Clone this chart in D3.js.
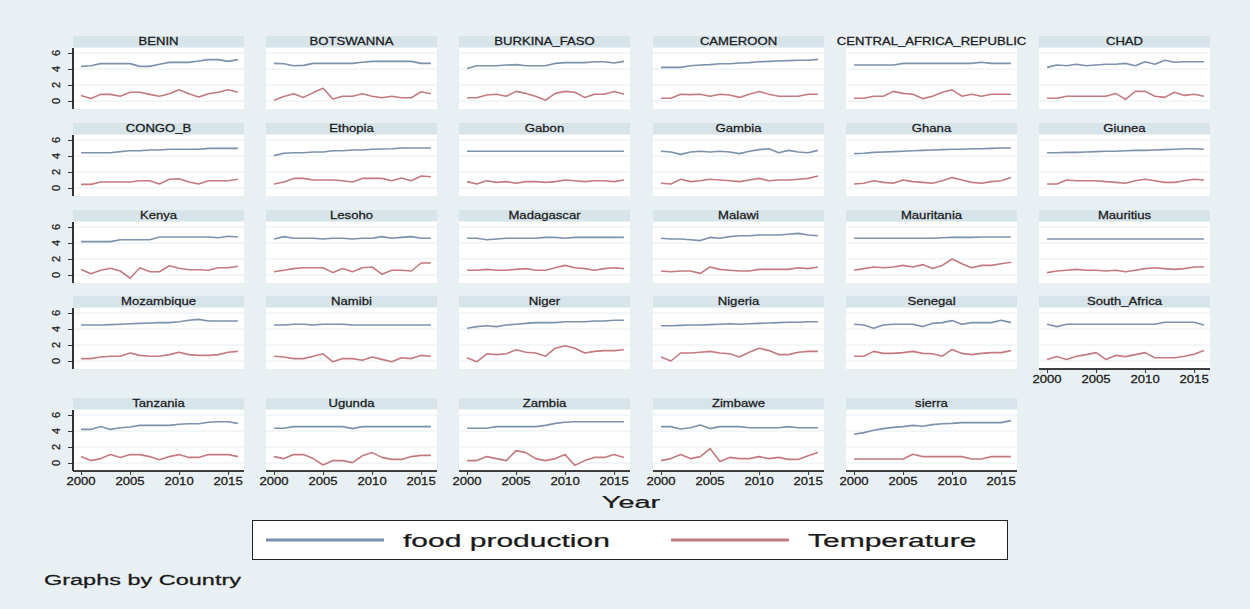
<!DOCTYPE html>
<html>
<head>
<meta charset="utf-8">
<script src="https://cdn.jsdelivr.net/npm/d3@7"></script>
<style>
  html, body { margin: 0; padding: 0; background: #e9f0f3; }
  text { font-family: "Liberation Sans", Arial, sans-serif; }
</style>
</head>
<body>
<svg id="chart" width="1250" height="609"></svg>
<script>
const countries = [
  "BENIN", "BOTSWANNA", "BURKINA_FASO", "CAMEROON", "CENTRAL_AFRICA_REPUBLIC", "CHAD",
  "CONGO_B", "Ethopia", "Gabon", "Gambia", "Ghana", "Giunea",
  "Kenya", "Lesoho", "Madagascar", "Malawi", "Mauritania", "Mauritius",
  "Mozambique", "Namibi", "Niger", "Nigeria", "Senegal", "South_Africa",
  "Tanzania", "Ugunda", "Zambia", "Zimbawe", "sierra"
];
const years = [2000, 2001, 2002, 2003, 2004, 2005, 2006, 2007, 2008, 2009, 2010, 2011, 2012, 2013, 2014, 2015, 2016];
const xTicks = [2000, 2005, 2010, 2015];
const yTicks = [0, 2, 4, 6];
const seriesNames = ["food production", "Temperature"];

// one row per country, same order as countries
const foodProduction = [
  [4.33, 4.4, 4.67, 4.67, 4.67, 4.67, 4.33, 4.33, 4.6, 4.83, 4.83, 4.83, 5.0, 5.17, 5.17, 4.95, 5.17],
  [4.7, 4.65, 4.4, 4.45, 4.7, 4.7, 4.7, 4.7, 4.7, 4.85, 4.95, 4.95, 4.95, 4.95, 4.95, 4.7, 4.7],
  [4.05, 4.4, 4.4, 4.4, 4.5, 4.55, 4.4, 4.4, 4.4, 4.7, 4.8, 4.8, 4.8, 4.9, 4.9, 4.75, 4.95],
  [4.2, 4.2, 4.2, 4.4, 4.5, 4.55, 4.65, 4.65, 4.75, 4.8, 4.9, 4.95, 5.0, 5.05, 5.1, 5.1, 5.2],
  [4.5, 4.5, 4.5, 4.5, 4.5, 4.7, 4.7, 4.7, 4.7, 4.7, 4.7, 4.7, 4.7, 4.85, 4.7, 4.7, 4.7],
  [4.2, 4.5, 4.4, 4.6, 4.4, 4.5, 4.6, 4.6, 4.7, 4.4, 4.9, 4.6, 5.1, 4.85, 4.9, 4.9, 4.9],
  [4.4, 4.4, 4.4, 4.4, 4.55, 4.65, 4.65, 4.75, 4.75, 4.85, 4.85, 4.85, 4.85, 4.95, 4.95, 4.95, 4.95],
  [4.05, 4.35, 4.4, 4.4, 4.5, 4.5, 4.65, 4.65, 4.75, 4.75, 4.85, 4.87, 4.9, 5.0, 5.0, 5.0, 5.0],
  [4.6, 4.6, 4.6, 4.6, 4.6, 4.6, 4.6, 4.6, 4.6, 4.6, 4.6, 4.6, 4.6, 4.6, 4.6, 4.6, 4.6],
  [4.6, 4.5, 4.2, 4.5, 4.6, 4.5, 4.6, 4.5, 4.3, 4.6, 4.8, 4.9, 4.4, 4.7, 4.5, 4.4, 4.7],
  [4.3, 4.35, 4.45, 4.5, 4.55, 4.6, 4.65, 4.7, 4.75, 4.8, 4.85, 4.85, 4.9, 4.9, 4.95, 5.0, 5.0],
  [4.4, 4.4, 4.45, 4.45, 4.5, 4.55, 4.6, 4.6, 4.65, 4.7, 4.7, 4.75, 4.8, 4.85, 4.9, 4.9, 4.85],
  [4.17, 4.17, 4.17, 4.17, 4.4, 4.4, 4.4, 4.4, 4.75, 4.75, 4.75, 4.75, 4.75, 4.75, 4.65, 4.85, 4.75],
  [4.5, 4.8, 4.6, 4.6, 4.6, 4.5, 4.6, 4.6, 4.5, 4.6, 4.6, 4.8, 4.6, 4.7, 4.8, 4.6, 4.6],
  [4.6, 4.6, 4.4, 4.5, 4.6, 4.6, 4.6, 4.6, 4.7, 4.7, 4.6, 4.7, 4.7, 4.7, 4.7, 4.7, 4.7],
  [4.6, 4.5, 4.5, 4.4, 4.3, 4.7, 4.6, 4.8, 4.9, 4.9, 5.0, 5.0, 5.0, 5.1, 5.2, 5.0, 4.9],
  [4.6, 4.6, 4.6, 4.6, 4.6, 4.6, 4.6, 4.6, 4.6, 4.65, 4.7, 4.7, 4.7, 4.75, 4.75, 4.75, 4.75],
  [4.5, 4.5, 4.5, 4.5, 4.5, 4.5, 4.5, 4.5, 4.5, 4.5, 4.5, 4.5, 4.5, 4.5, 4.5, 4.5, 4.5],
  [4.5, 4.5, 4.5, 4.55, 4.6, 4.65, 4.7, 4.75, 4.8, 4.8, 4.9, 5.1, 5.2, 5.0, 5.0, 5.0, 5.0],
  [4.5, 4.5, 4.6, 4.6, 4.5, 4.6, 4.6, 4.6, 4.5, 4.5, 4.5, 4.5, 4.5, 4.5, 4.5, 4.5, 4.5],
  [4.1, 4.3, 4.4, 4.3, 4.5, 4.6, 4.7, 4.8, 4.8, 4.8, 4.9, 4.9, 4.9, 5.0, 5.0, 5.1, 5.1],
  [4.4, 4.4, 4.45, 4.5, 4.5, 4.55, 4.6, 4.65, 4.6, 4.65, 4.7, 4.75, 4.8, 4.85, 4.85, 4.9, 4.9],
  [4.6, 4.5, 4.1, 4.5, 4.6, 4.6, 4.6, 4.3, 4.7, 4.8, 5.05, 4.6, 4.8, 4.8, 4.8, 5.1, 4.8],
  [4.6, 4.3, 4.6, 4.6, 4.6, 4.6, 4.6, 4.6, 4.6, 4.6, 4.6, 4.6, 4.85, 4.85, 4.85, 4.85, 4.5],
  [4.2, 4.2, 4.55, 4.2, 4.4, 4.5, 4.7, 4.7, 4.7, 4.7, 4.85, 4.9, 4.9, 5.1, 5.15, 5.15, 4.95],
  [4.35, 4.35, 4.55, 4.55, 4.55, 4.55, 4.55, 4.55, 4.3, 4.55, 4.55, 4.55, 4.55, 4.55, 4.55, 4.55, 4.55],
  [4.35, 4.35, 4.35, 4.55, 4.55, 4.55, 4.55, 4.55, 4.7, 4.95, 5.1, 5.15, 5.15, 5.15, 5.15, 5.15, 5.15],
  [4.55, 4.55, 4.25, 4.4, 4.75, 4.3, 4.55, 4.55, 4.55, 4.4, 4.4, 4.4, 4.4, 4.55, 4.4, 4.4, 4.4],
  [3.6, 3.8, 4.1, 4.3, 4.45, 4.55, 4.7, 4.6, 4.8, 4.9, 4.95, 5.05, 5.05, 5.05, 5.05, 5.05, 5.3]
];
const temperature = [
  [0.7, 0.3, 0.83, 0.83, 0.6, 1.1, 1.1, 0.83, 0.6, 0.9, 1.4, 0.9, 0.5, 0.9, 1.1, 1.4, 1.1],
  [0.1, 0.55, 0.9, 0.45, 1.05, 1.6, 0.25, 0.6, 0.6, 0.9, 0.6, 0.4, 0.6, 0.4, 0.4, 1.15, 0.9],
  [0.4, 0.4, 0.75, 0.85, 0.6, 1.2, 0.95, 0.6, 0.1, 0.95, 1.2, 1.1, 0.45, 0.85, 0.85, 1.2, 0.85],
  [0.35, 0.35, 0.85, 0.8, 0.85, 0.6, 0.85, 0.75, 0.45, 0.85, 1.2, 0.85, 0.6, 0.6, 0.6, 0.85, 0.85],
  [0.35, 0.35, 0.6, 0.6, 1.2, 0.95, 0.85, 0.3, 0.6, 1.1, 1.4, 0.6, 0.85, 0.6, 0.85, 0.85, 0.85],
  [0.35, 0.35, 0.6, 0.6, 0.6, 0.6, 0.6, 0.95, 0.2, 1.2, 1.2, 0.6, 0.45, 1.1, 0.7, 0.85, 0.6],
  [0.45, 0.45, 0.75, 0.75, 0.75, 0.75, 0.9, 0.9, 0.5, 1.1, 1.15, 0.75, 0.5, 0.9, 0.9, 0.9, 1.1],
  [0.5, 0.75, 1.2, 1.2, 1.0, 1.0, 1.0, 0.9, 0.75, 1.2, 1.2, 1.2, 0.9, 1.25, 0.9, 1.5, 1.4],
  [0.8, 0.5, 0.9, 0.7, 0.8, 0.6, 0.8, 0.8, 0.7, 0.8, 1.0, 0.9, 0.8, 0.9, 0.9, 0.8, 1.0],
  [0.6, 0.5, 1.1, 0.8, 0.9, 1.1, 1.0, 0.9, 0.8, 1.0, 1.2, 0.9, 1.0, 1.0, 1.1, 1.2, 1.5],
  [0.5, 0.6, 0.9, 0.7, 0.6, 1.0, 0.8, 0.7, 0.6, 0.9, 1.3, 1.0, 0.7, 0.6, 0.8, 0.9, 1.3],
  [0.5, 0.5, 1.0, 0.9, 0.9, 0.9, 0.8, 0.7, 0.6, 0.9, 1.1, 0.9, 0.7, 0.7, 0.9, 1.1, 1.0],
  [0.7, 0.15, 0.6, 0.85, 0.5, -0.4, 0.9, 0.4, 0.4, 1.15, 0.85, 0.65, 0.65, 0.6, 0.9, 0.9, 1.1],
  [0.4, 0.6, 0.8, 0.9, 0.9, 0.9, 0.3, 0.8, 0.4, 0.9, 1.0, 0.1, 0.6, 0.6, 0.5, 1.5, 1.5],
  [0.6, 0.6, 0.7, 0.6, 0.6, 0.7, 0.8, 0.6, 0.6, 0.9, 1.2, 0.9, 0.8, 0.6, 0.8, 0.9, 0.8],
  [0.5, 0.4, 0.5, 0.5, 0.2, 1.0, 0.7, 0.6, 0.5, 0.5, 0.7, 0.7, 0.7, 0.7, 0.9, 0.8, 1.0],
  [0.6, 0.8, 1.0, 0.9, 1.0, 1.2, 1.0, 1.3, 0.8, 1.2, 2.0, 1.4, 0.9, 1.2, 1.2, 1.4, 1.6],
  [0.3, 0.5, 0.6, 0.7, 0.6, 0.6, 0.5, 0.6, 0.4, 0.6, 0.8, 0.9, 0.8, 0.7, 0.8, 1.0, 1.0],
  [0.3, 0.3, 0.5, 0.6, 0.6, 1.0, 0.7, 0.6, 0.6, 0.8, 1.1, 0.8, 0.7, 0.7, 0.8, 1.1, 1.2],
  [0.6, 0.5, 0.3, 0.3, 0.6, 0.9, -0.1, 0.3, 0.3, 0.1, 0.5, 0.2, -0.1, 0.4, 0.3, 0.7, 0.6],
  [0.4, -0.1, 0.9, 0.8, 0.9, 1.4, 1.1, 1.0, 0.6, 1.6, 1.9, 1.6, 1.0, 1.2, 1.3, 1.3, 1.4],
  [0.5, 0.0, 1.0, 1.0, 1.1, 1.2, 1.0, 0.9, 0.5, 1.1, 1.6, 1.3, 0.8, 0.8, 1.1, 1.2, 1.2],
  [0.6, 0.6, 1.2, 0.95, 0.95, 1.05, 1.2, 0.95, 0.9, 0.6, 1.45, 0.95, 0.8, 0.95, 1.05, 1.05, 1.3],
  [0.2, 0.55, 0.2, 0.6, 0.8, 1.05, 0.2, 0.7, 0.55, 0.8, 1.05, 0.4, 0.4, 0.4, 0.6, 0.85, 1.3],
  [0.8, 0.3, 0.55, 1.05, 0.7, 1.05, 1.05, 0.8, 0.4, 0.8, 1.05, 0.7, 0.7, 1.05, 1.05, 1.05, 0.8],
  [0.8, 0.55, 1.05, 1.05, 0.55, -0.25, 0.3, 0.3, 0.05, 0.9, 1.3, 0.7, 0.45, 0.45, 0.8, 0.95, 0.95],
  [0.3, 0.3, 0.8, 0.55, 0.3, 1.55, 1.3, 0.55, 0.3, 0.55, 1.05, -0.3, 0.3, 0.7, 0.7, 1.05, 0.7],
  [0.3, 0.55, 1.05, 0.55, 0.8, 1.8, 0.2, 0.7, 0.55, 0.55, 0.8, 0.55, 0.7, 0.45, 0.45, 0.9, 1.3],
  [0.5, 0.5, 0.5, 0.5, 0.5, 0.5, 1.1, 0.8, 0.8, 0.8, 0.8, 0.8, 0.5, 0.5, 0.8, 0.8, 0.8]
];

const colors = ["#7c91ad", "#c47a7e"];
const ncol = 6;
const colX = [73, 266, 459, 653, 846, 1039];
const rowStrip = [36, 123, 210, 296, 398];
const panelW = 171, panelH = 61, stripH = 11;

const svg = d3.select("#chart");
svg.append("rect").attr("width", 1250).attr("height", 609).attr("fill", "#e9f0f3");

const x = d3.scaleLinear().domain([1999.18, 2016.62]).range([0, panelW]);
const y = d3.scaleLinear().domain([-1, 6.625]).range([panelH, 0]);

// horizontally stretched text, like the reference
const stretchText = (parent, px, py, sx, str, size, anchor) =>
  parent.append("g")
    .attr("transform", "translate(" + px + "," + py + ") scale(" + sx + ",1)")
    .append("text")
    .attr("text-anchor", anchor || "middle")
    .attr("font-size", size)
    .attr("fill", "#1a1a1a")
    .attr("stroke", "#1a1a1a")
    .attr("stroke-width", 0.25)
    .text(str);

const line = d3.line().x((d, i) => x(years[i])).y(d => y(d));

countries.forEach((name, k) => {
  const r = Math.floor(k / ncol), c = k % ncol;
  const top = rowStrip[r] + stripH + 1;
  const left = colX[c];
  const isBottom = k + ncol >= countries.length;

  const g = svg.append("g").attr("transform", "translate(" + left + "," + top + ")");

  //title strip
  const strip = g.append("rect")
    .attr("x", 0).attr("y", -stripH - 1)
    .attr("width", panelW).attr("height", stripH)
    .attr("fill", "#d7e4ea");
  const t = stretchText(g, panelW / 2, -3.5, 1.25, name, 10.5);
  if (t.node().getComputedTextLength() * 1.25 > panelW) strip.remove();

  g.append("rect").attr("width", panelW).attr("height", panelH).attr("fill", "#fff");

  g.selectAll(".grid")
    .data(yTicks)
    .enter()
    .append("line")
    .attr("x1", 0).attr("x2", panelW)
    .attr("y1", d => y(d)).attr("y2", d => y(d))
    .attr("stroke", "#e6eef1").attr("stroke-width", 1);

  [foodProduction[k], temperature[k]].forEach((vals, s) => {
    g.append("path")
      .attr("d", line(vals))
      .attr("fill", "none")
      .attr("stroke", colors[s])
      .attr("stroke-width", 1.6)
      .attr("stroke-linejoin", "round");
  });

  //Y axis on first column only
  if (c === 0) {
    const ya = g.append("g")
      .call(d3.axisLeft(y).tickValues(yTicks).tickSize(5).tickFormat(""));
    ya.select(".domain").attr("d", "M0,0V" + panelH).attr("stroke", "#000").attr("stroke-width", 1.6);
    ya.selectAll(".tick line").attr("stroke", "#333");
    yTicks.forEach(v => {
      g.append("text")
        .attr("transform", "translate(-13," + y(v) + ") rotate(-90)")
        .attr("text-anchor", "middle")
        .attr("font-size", 11)
        .attr("fill", "#1a1a1a")
        .attr("stroke", "#1a1a1a")
        .attr("stroke-width", 0.25)
        .text(v);
    });
  }

  //X axis on the last panel of each column
  if (isBottom) {
    const xa = g.append("g")
      .attr("transform", "translate(0," + panelH + ")")
      .call(d3.axisBottom(x).tickValues(xTicks).tickSize(4).tickFormat(""));
    xa.select(".domain").attr("d", "M0,0H" + panelW).attr("stroke", "#000").attr("stroke-width", 1.3);
    xa.selectAll(".tick line").attr("stroke", "#333");
    xTicks.forEach(v => stretchText(g, x(v), panelH + 14, 1.25, v, 10.5));
  }
});

//x title
stretchText(svg, 631, 508, 1.7, "Year", 17);

//legend
const legend = svg.append("g");
legend.append("rect")
  .attr("x", 252.5).attr("y", 520.5).attr("width", 755).attr("height", 39)
  .attr("fill", "#fff").attr("stroke", "#222").attr("stroke-width", 1);
const legendX = [266, 671];
seriesNames.forEach((s, i) => {
  legend.append("line")
    .attr("x1", legendX[i]).attr("x2", legendX[i] + 118)
    .attr("y1", 540).attr("y2", 540)
    .attr("stroke", colors[i]).attr("stroke-width", 2.8);
  stretchText(legend, legendX[i] + 137, 547, 1.58, s, 19, "start");
});

//note
stretchText(svg, 44, 585, 1.62, "Graphs by Country", 14.5, "start");
</script>
</body>
</html>
